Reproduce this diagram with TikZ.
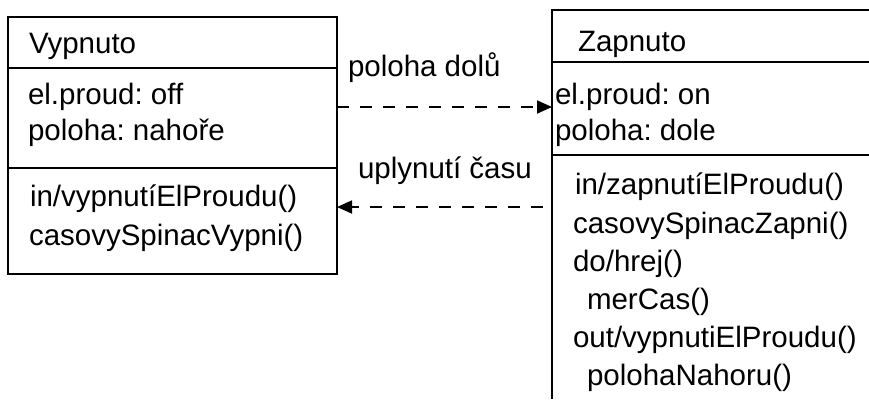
\documentclass[tikz,border=0pt]{standalone}
\usepackage{fontspec}
\setmainfont{Liberation Sans}
\usetikzlibrary{arrows.meta}
\begin{document}
\begin{tikzpicture}[x=1pt,y=-1pt,
  box/.style={draw=black, line width=1.2pt, inner sep=0, outer sep=0, anchor=north west},
  sep/.style={black, line width=1.2pt},
  txt/.style={anchor=base west, inner sep=0, outer sep=0, font=\fontsize{29.5}{36}\selectfont\frenchspacing},
  trans/.style={black, line width=1.8pt, dash pattern=on 12pt off 11pt, -{Triangle[length=15pt,width=13pt]}}]
\useasboundingbox (0,0) rectangle (869,399);
% left box
\node[box, minimum width=329pt, minimum height=257pt] (vyp) at (8,17) {};
\draw[sep] (vyp.west |- 0,68) -- (vyp.east |- 0,68);
\draw[sep] (vyp.west |- 0,168) -- (vyp.east |- 0,168);
\node[txt] (v1) at (29,53) {Vypnuto};
\node[txt] (v2) at (28,104) {el.proud: off};
\node[txt] (v3) at (28,140) {poloha: nahoře};
\node[txt] (v4) at (30,206) {in/vypnutíElProudu()};
\node[txt] (v5) at (29,245) {casovySpinacVypni()};
% right box (continues beyond the picture's right and bottom edges)
\coordinate (zNE) at (869,10);
\coordinate (zNW) at (552,10);
\coordinate (zSW) at (552,399);
\draw[sep] (zNE) -- (zNW) -- (zSW);
\coordinate (zA) at (869,62);
\coordinate (zB) at (869,155);
\draw[sep] (zNW |- zA) -- (zA);
\draw[sep] (zNW |- zB) -- (zB);
\node[txt] (z1) at (578,51) {Zapnuto};
\node[txt] (z2) at (555,104) {el.proud: on};
\node[txt] (z3) at (555,140) {poloha: dole};
\node[txt] (z4) at (575,194) {in/zapnutíElProudu()};
\node[txt] (z5) at (573,233) {casovySpinacZapni()};
\node[txt] (z6) at (573,271) {do/hrej()};
\node[txt] (z7) at (587,309) {merCas()};
\node[txt] (z8) at (573,347) {out/vypnutiElProudu()};
\node[txt] (z9) at (587,385) {polohaNahoru()};
% transitions
\coordinate (t1s) at (vyp.east |- 0,107);
\coordinate (t1e) at (zNW |- 0,107);
\coordinate (t2s) at (543,207);
\coordinate (t2e) at (vyp.east |- 0,207);
\draw[trans] (t1s) -- (t1e);
\draw[trans] (t2s) -- (t2e);
\node[txt] (l1) at (348,76) {poloha dolů};
\node[txt] (l2) at (358,178) {uplynutí času};
\end{tikzpicture}
\end{document}
